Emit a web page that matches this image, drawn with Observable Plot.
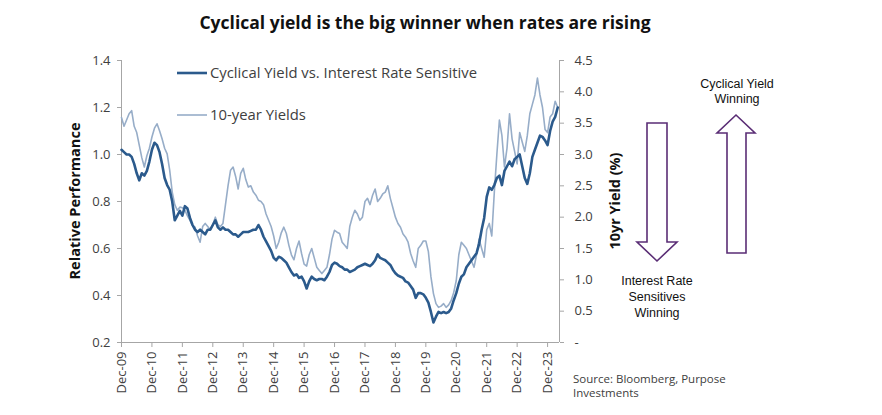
<!DOCTYPE html>
<html><head><meta charset="utf-8">
<script src="https://cdn.jsdelivr.net/npm/d3@7"></script>
<script src="https://cdn.jsdelivr.net/npm/@observablehq/plot@0.6"></script>
<style>html,body{margin:0;padding:0;background:#fff} svg{display:block}</style>
</head><body><div id="chart"></div>
<script>
const title = "Cyclical yield is the big winner when rates are rising";
const seriesNames = ["Cyclical Yield vs. Interest Rate Sensitive", "10-year Yields"];
const leftAxisTitle = "Relative Performance";
const rightAxisTitle = "10yr Yield (%)";
const tickLabels = ["Dec-09","Dec-10","Dec-11","Dec-12","Dec-13","Dec-14","Dec-15","Dec-16","Dec-17","Dec-18","Dec-19","Dec-20","Dec-21","Dec-22","Dec-23"];
const leftTicks = [0.2, 0.4, 0.6, 0.8, 1.0, 1.2, 1.4];
const rightTicks = [0, 0.5, 1.0, 1.5, 2.0, 2.5, 3.0, 3.5, 4.0, 4.5];
const upLabel = ["Cyclical Yield", "Winning"];
const downLabel = ["Interest Rate", "Sensitives", "Winning"];
const sourceLines = ["Source: Bloomberg, Purpose", "Investments"];

// monthly readings, Dec-2009 .. Apr-2024
const relPerf = [
1.02,1.01,1.00,1.00,0.99,0.96,0.92,0.89,0.92,0.91,
0.93,0.97,1.02,1.05,1.04,1.01,0.96,0.90,0.87,0.85,
0.80,0.72,0.74,0.76,0.74,0.78,0.77,0.73,0.70,0.68,
0.67,0.68,0.67,0.66,0.68,0.68,0.70,0.72,0.69,0.68,
0.69,0.68,0.68,0.67,0.66,0.66,0.65,0.66,0.67,0.67,
0.67,0.675,0.68,0.68,0.70,0.68,0.65,0.63,0.61,0.59,
0.56,0.55,0.565,0.56,0.55,0.54,0.52,0.50,0.485,0.49,
0.475,0.48,0.46,0.43,0.46,0.48,0.47,0.465,0.47,0.47,
0.465,0.48,0.50,0.53,0.54,0.535,0.525,0.52,0.51,0.51,
0.50,0.505,0.51,0.52,0.525,0.53,0.535,0.53,0.525,0.535,
0.55,0.575,0.56,0.555,0.55,0.54,0.53,0.51,0.495,0.485,
0.48,0.475,0.46,0.455,0.44,0.425,0.39,0.41,0.41,0.405,
0.39,0.37,0.33,0.285,0.31,0.33,0.325,0.33,0.325,0.33,
0.345,0.38,0.41,0.45,0.48,0.49,0.52,0.535,0.55,0.565,
0.58,0.62,0.68,0.73,0.82,0.86,0.85,0.87,0.90,0.91,
0.87,0.93,0.95,0.97,0.95,0.98,0.99,1.00,0.95,0.90,
0.875,0.92,0.99,1.02,1.05,1.08,1.075,1.06,1.04,1.10,
1.14,1.16,1.20];

const yield10 = [
3.59,3.45,3.55,3.65,3.70,3.45,3.35,3.15,2.95,2.80,
2.98,3.10,3.28,3.42,3.49,3.38,3.25,3.10,3.01,2.75,
2.40,2.20,2.11,2.16,2.15,2.11,2.02,1.95,1.87,1.84,
1.70,1.60,1.85,1.90,1.85,1.80,1.88,2.00,1.88,1.85,
1.90,2.20,2.50,2.75,2.80,2.65,2.45,2.70,2.78,2.60,
2.48,2.50,2.40,2.35,2.27,2.25,2.20,2.05,1.95,1.85,
1.70,1.50,1.60,1.75,1.84,1.74,1.55,1.40,1.32,1.50,
1.62,1.42,1.25,1.22,1.40,1.50,1.35,1.20,1.15,1.10,
1.15,1.20,1.40,1.65,1.79,1.76,1.74,1.60,1.55,1.50,
1.85,2.00,2.11,2.05,1.95,2.00,2.25,2.30,2.20,2.35,
2.45,2.25,2.30,2.37,2.40,2.50,2.30,2.15,2.00,1.90,
1.84,1.73,1.68,1.60,1.42,1.30,1.20,1.50,1.55,1.62,
1.62,1.45,1.05,0.78,0.62,0.56,0.58,0.62,0.56,0.60,
0.67,0.80,0.99,1.40,1.60,1.55,1.50,1.40,1.30,1.20,
1.40,1.65,1.50,1.36,1.80,1.90,1.70,2.40,3.00,3.55,
3.30,2.80,3.10,3.65,3.25,3.05,2.85,3.35,3.20,3.05,
3.30,3.65,3.80,3.95,4.22,3.95,3.75,3.40,3.35,3.60,
3.65,3.85,3.75];

const yMin = 0.2, yMax = 1.4, rMax = 4.5;
const toLeft = r => yMin + r * (yMax - yMin) / rMax;
const toRight = v => Math.round((v - yMin) * rMax / (yMax - yMin) * 10) / 10;
const rows = relPerf.map((v, i) => ({m: i, rel: v, yld: yield10[i]}));
const tickPos = tickLabels.map((_, i) => i * 12);
const xEnd = 172.7;

const darkBlue = "#2b5a8c", lightBlue = "#97adc8", axisGray = "#a6a6a6", textGray = "#404040";
const font = "'Open Sans', sans-serif";

const plot = Plot.plot({
  width: 882, height: 415,
  marginLeft: 121, marginRight: 323, marginTop: 60, marginBottom: 73,
  style: {fontFamily: font, fontSize: "13px", color: textGray, background: "#fff", overflow: "visible"},
  x: {domain: [0, xEnd], axis: null},
  y: {domain: [yMin, yMax], axis: null},
  marks: [
    Plot.ruleX([0], {stroke: axisGray}),
    Plot.ruleX([xEnd], {stroke: axisGray}),
    Plot.ruleY([yMin], {stroke: axisGray}),
    Plot.axisY(leftTicks, {anchor: "left", tickSize: 4, tickPadding: 7, stroke: axisGray, fill: textGray,
      tickFormat: d => d.toFixed(1), label: null}),
    Plot.axisY(rightTicks.map(toLeft), {anchor: "right", tickSize: 4, tickPadding: 11, stroke: axisGray, fill: textGray,
      tickFormat: d => { const r = toRight(d); return r === 0 ? "-" : r.toFixed(1); }, label: null}),
    Plot.axisX(tickPos, {anchor: "bottom", tickSize: 5, tickPadding: 4, tickRotate: -90, stroke: axisGray, fill: textGray,
      tickFormat: d => tickLabels[Math.round(d / 12)], label: null}),
    Plot.line(rows, {x: "m", y: d => toLeft(d.yld), stroke: lightBlue, strokeWidth: 1.6}),
    Plot.line(rows, {x: "m", y: "rel", stroke: darkBlue, strokeWidth: 2.6})
  ]
});
document.getElementById("chart").appendChild(plot);

const svg = d3.select(plot);
function fit(sel, target) {
  const n = sel.node();
  const len = n.getComputedTextLength();
  const fs = parseFloat(sel.attr("font-size"));
  if (len > 0) sel.attr("font-size", (fs * target / len).toFixed(2));
  return sel;
}
// title
fit(svg.append("text").text(title).attr("x", 425).attr("y", 29).attr("text-anchor", "middle")
  .attr("font-family", font).attr("font-weight", 700).attr("font-size", 18).attr("fill", "#111"), 451);

// legend
const lg = svg.append("g").attr("text-anchor", "start");
lg.append("line").attr("x1", 177).attr("x2", 207).attr("y1", 73).attr("y2", 73).attr("stroke", darkBlue).attr("stroke-width", 2.6);
const t1 = lg.append("text").text(seriesNames[0]).attr("x", 210).attr("y", 77.5).attr("text-anchor", "start")
  .attr("font-family", font).attr("font-size", 13).attr("fill", textGray);
fit(t1, 267);
lg.append("line").attr("x1", 177).attr("x2", 207).attr("y1", 115).attr("y2", 115).attr("stroke", lightBlue).attr("stroke-width", 1.6);
lg.append("text").text(seriesNames[1]).attr("x", 210).attr("y", 119.5).attr("text-anchor", "start")
  .attr("font-family", font).attr("font-size", t1.attr("font-size")).attr("fill", textGray);

// axis titles
fit(svg.append("text").text(leftAxisTitle).attr("transform", "translate(80,201) rotate(-90)").attr("text-anchor", "middle")
  .attr("font-family", font).attr("font-weight", 700).attr("font-size", 14).attr("fill", "#111"), 157);
fit(svg.append("text").text(rightAxisTitle).attr("transform", "translate(620,201) rotate(-90)").attr("text-anchor", "middle")
  .attr("font-family", font).attr("font-weight", 700).attr("font-size", 14).attr("fill", "#111"), 97);

// arrows
const purple = "#5a2d75";
svg.append("polygon").attr("points", "647,123 667,123 667,242 677,242 657,261 637,242 647,242")
  .attr("fill", "#fff").attr("stroke", purple).attr("stroke-width", 1.6).attr("stroke-linejoin", "miter");
svg.append("polygon").attr("points", "727,253 746,253 746,133 755,133 736,115 717,133 727,133")
  .attr("fill", "#fff").attr("stroke", purple).attr("stroke-width", 1.6).attr("stroke-linejoin", "miter");
const af = "'Liberation Sans', Arial, sans-serif";
upLabel.forEach((s, i) => svg.append("text").text(s).attr("x", 737).attr("y", 88 + i * 15).attr("text-anchor", "middle")
  .attr("font-family", af).attr("font-size", 12.5).attr("fill", "#111"));
downLabel.forEach((s, i) => svg.append("text").text(s).attr("x", 657).attr("y", 285 + i * 16).attr("text-anchor", "middle")
  .attr("font-family", af).attr("font-size", 12.5).attr("fill", "#111"));

// source
sourceLines.forEach((s, i) => svg.append("text").text(s).attr("x", 573).attr("y", 383 + i * 14).attr("text-anchor", "start")
  .attr("font-family", font).attr("font-size", 11.5).attr("fill", textGray));
</script>
</body></html>
